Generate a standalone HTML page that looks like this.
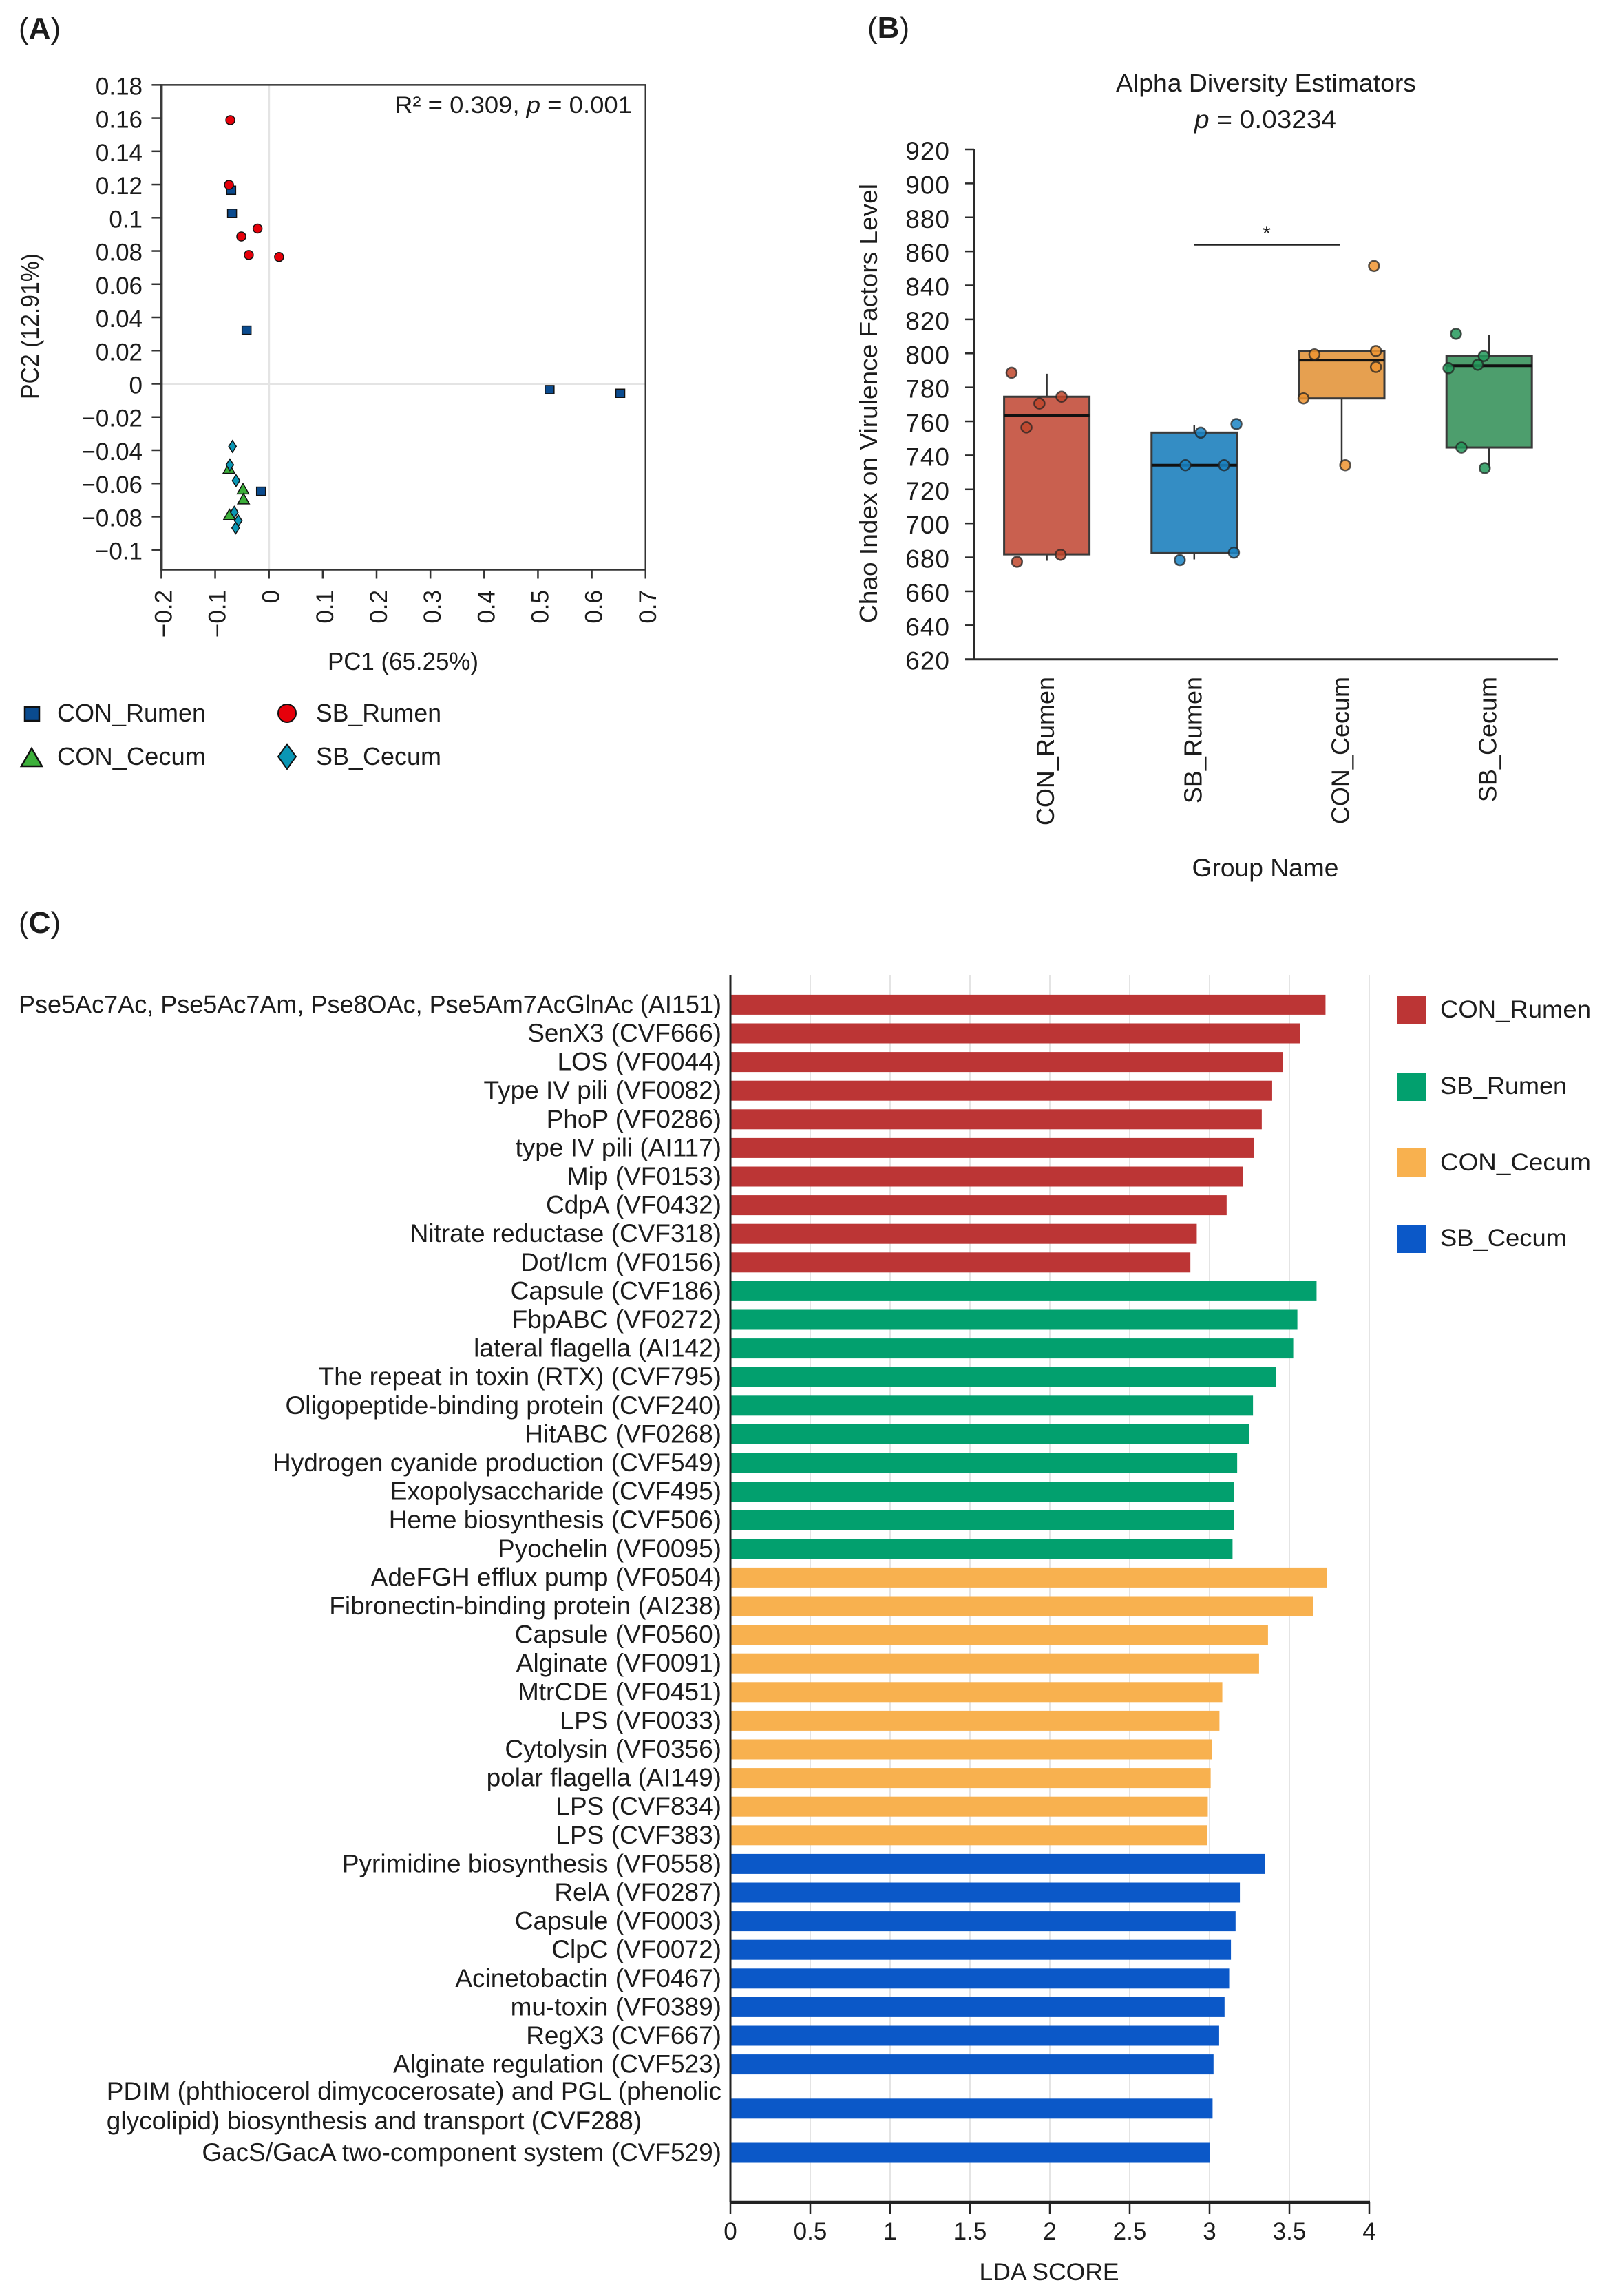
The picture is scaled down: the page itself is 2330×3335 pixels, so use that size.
<!DOCTYPE html>
<html lang="en">
<head>
<meta charset="utf-8">
<title>Virulence factor analysis panels</title>
<style>
html,body{margin:0;padding:0;background:#fff;}
svg{display:block;}
text{font-family:"Liberation Sans",Arial,sans-serif;fill:#1c1c1c;}
</style>
</head>
<body>
<svg id="fig" xmlns="http://www.w3.org/2000/svg" width="2330" height="3335" viewBox="0 0 2330 3335">
  <rect x="0" y="0" width="2330" height="3335" fill="#ffffff"/>
  <text x="27" y="56" font-size="44">(<tspan font-weight="bold">A</tspan>)</text>
  <text x="1260" y="55" font-size="44">(<tspan font-weight="bold">B</tspan>)</text>
  <text x="27" y="1355" font-size="44">(<tspan font-weight="bold">C</tspan>)</text>

  <g id="panelA"></g>
  <text x="573" y="164" font-size="34" textLength="345" lengthAdjust="spacingAndGlyphs">R² = 0.309, <tspan font-style="italic">p</tspan> = 0.001</text>
  <text x="476" y="973" font-size="36" textLength="219" lengthAdjust="spacingAndGlyphs">PC1 (65.25%)</text>
  <text transform="translate(56 474) rotate(-90)" text-anchor="middle" font-size="36" textLength="212" lengthAdjust="spacingAndGlyphs">PC2 (12.91%)</text>

  <g>
    <rect x="36" y="1027" width="21" height="20" fill="#0a4b8f" stroke="#111" stroke-width="2.5"/>
    <text x="83" y="1048" font-size="36" textLength="216" lengthAdjust="spacingAndGlyphs">CON_Rumen</text>
    <polygon points="31,1113 61,1113 46,1087" fill="#3cb03a" stroke="#111" stroke-width="2.5"/>
    <text x="83" y="1111" font-size="36" textLength="216" lengthAdjust="spacingAndGlyphs">CON_Cecum</text>
    <circle cx="417" cy="1036" r="13" fill="#e6000a" stroke="#111" stroke-width="2"/>
    <text x="459" y="1048" font-size="36" textLength="182" lengthAdjust="spacingAndGlyphs">SB_Rumen</text>
    <polygon points="417,1081 430,1099 417,1117 404,1099" fill="#0a96b4" stroke="#111" stroke-width="2"/>
    <text x="459" y="1111" font-size="36" textLength="182" lengthAdjust="spacingAndGlyphs">SB_Cecum</text>
  </g>

  <text x="1839" y="133" text-anchor="middle" font-size="36" textLength="436" lengthAdjust="spacingAndGlyphs">Alpha Diversity Estimators</text>
  <text x="1735" y="186" font-size="37" textLength="206" lengthAdjust="spacingAndGlyphs"><tspan font-style="italic">p</tspan> = 0.03234</text>
  <g id="panelB"></g>
  <text transform="translate(1274 586) rotate(-90)" text-anchor="middle" font-size="36" textLength="638" lengthAdjust="spacingAndGlyphs">Chao Index on Virulence Factors Level</text>
  <text x="1838" y="1273" text-anchor="middle" font-size="37" textLength="213" lengthAdjust="spacingAndGlyphs">Group Name</text>
  <line x1="1734" y1="355.5" x2="1947" y2="355.5" stroke="#222" stroke-width="2.5"/>
  <text x="1840" y="349" text-anchor="middle" font-size="30">*</text>

  <g id="panelC"></g>
  <text x="1524" y="3312" text-anchor="middle" font-size="35" textLength="203" lengthAdjust="spacingAndGlyphs">LDA SCORE</text>
  <g>
    <rect x="2030" y="1447" width="41" height="41" fill="#bc3535"/>
    <text x="2092" y="1478" font-size="35" textLength="219" lengthAdjust="spacingAndGlyphs">CON_Rumen</text>
    <rect x="2030" y="1558" width="41" height="41" fill="#02a06e"/>
    <text x="2092" y="1589" font-size="35" textLength="184" lengthAdjust="spacingAndGlyphs">SB_Rumen</text>
    <rect x="2030" y="1668" width="41" height="41" fill="#f8b14f"/>
    <text x="2092" y="1700" font-size="35" textLength="219" lengthAdjust="spacingAndGlyphs">CON_Cecum</text>
    <rect x="2030" y="1779" width="41" height="41" fill="#0b58c8"/>
    <text x="2092" y="1810" font-size="35" textLength="184" lengthAdjust="spacingAndGlyphs">SB_Cecum</text>
  </g>
</svg>

<script>
/* ---------- Panel A data ---------- */
const aXTickLabels = ['−0.2','−0.1','0','0.1','0.2','0.3','0.4','0.5','0.6','0.7'];
const aYTickLabels = ['0.18','0.16','0.14','0.12','0.1','0.08','0.06','0.04','0.02','0','−0.02','−0.04','−0.06','−0.08','−0.1'];
const conRumenPC1 = [-0.0702,-0.0686,-0.0416,-0.0147,0.5216,0.653];
const conRumenPC2 = [0.1166,0.1027,0.0323,-0.0647,-0.0035,-0.0057];
const conCecumPC1 = [-0.0743,-0.0482,-0.0473,-0.0735];
const conCecumPC2 = [-0.051,-0.0634,-0.0694,-0.0789];
const sbRumenPC1 = [-0.0718,-0.0743,-0.0212,-0.0514,-0.0375,0.0188];
const sbRumenPC2 = [0.1588,0.1198,0.0935,0.0887,0.0776,0.0764];
const sbCecumPC1 = [-0.0678,-0.0727,-0.0612,-0.0645,-0.0571,-0.062];
const sbCecumPC2 = [-0.0377,-0.0488,-0.0583,-0.0773,-0.0824,-0.0868];

/* ---------- Panel B data ---------- */
const bGroups = ['CON_Rumen','SB_Rumen','CON_Cecum','SB_Cecum'];
const bYTicks = [920,900,880,860,840,820,800,780,760,740,720,700,680,660,640,620];
const bWhiskerLow = [678,678.8,734,732.5];
const bQ1 = [681.8,682.5,773.5,744.6];
const bMedian = [763.4,734.2,796,792.7];
const bQ3 = [774.5,753.4,801.4,798.4];
const bWhiskerHigh = [788,757.7,801.4,811];
const bPointsConRumen = [788.6,770.5,774.5,756.4,681.5,677.4];
const bJitterConRumen = [-0.239,-0.05,0.10,-0.138,0.094,-0.202];
const bPointsSbRumen = [753.4,758.4,734.2,734.2,682.8,678.4];
const bJitterSbRumen = [0.044,0.286,-0.06,0.202,0.269,-0.098];
const bPointsConCecum = [851.4,799.4,801.4,792,773.5,734.2];
const bJitterConCecum = [0.219,-0.185,0.232,0.232,-0.259,0.024];
const bPointsSbCecum = [811.5,798.4,791.3,793.3,744.6,732.5];
const bJitterSbCecum = [-0.225,-0.037,-0.276,-0.077,-0.188,-0.03];

/* ---------- Panel C data ---------- */
const cTicks = [0,0.5,1,1.5,2,2.5,3,3.5,4];
const conRumenFeatures = ['Pse5Ac7Ac, Pse5Ac7Am, Pse8OAc, Pse5Am7AcGlnAc (AI151)','SenX3 (CVF666)','LOS (VF0044)','Type IV pili (VF0082)','PhoP (VF0286)','type IV pili (AI117)','Mip (VF0153)','CdpA (VF0432)','Nitrate reductase (CVF318)','Dot/Icm (VF0156)'];
const conRumenScores = [3.726,3.565,3.458,3.392,3.327,3.279,3.21,3.107,2.92,2.88];
const sbRumenFeatures = ['Capsule (CVF186)','FbpABC (VF0272)','lateral flagella (AI142)','The repeat in toxin (RTX) (CVF795)','Oligopeptide-binding protein (CVF240)','HitABC (VF0268)','Hydrogen cyanide production (CVF549)','Exopolysaccharide (CVF495)','Heme biosynthesis (CVF506)','Pyochelin (VF0095)'];
const sbRumenScores = [3.67,3.55,3.524,3.418,3.272,3.25,3.173,3.155,3.151,3.144];
const conCecumFeatures = ['AdeFGH efflux pump (VF0504)','Fibronectin-binding protein (AI238)','Capsule (VF0560)','Alginate (VF0091)','MtrCDE (VF0451)','LPS (VF0033)','Cytolysin (VF0356)','polar flagella (AI149)','LPS (CVF834)','LPS (CVF383)'];
const conCecumScores = [3.733,3.65,3.366,3.31,3.08,3.062,3.016,3.007,2.989,2.985];
const sbCecumFeatures = ['Pyrimidine biosynthesis (VF0558)','RelA (VF0287)','Capsule (VF0003)','ClpC (VF0072)','Acinetobactin (VF0467)','mu-toxin (VF0389)','RegX3 (CVF667)','Alginate regulation (CVF523)','PDIM (phthiocerol dimycocerosate) and PGL (phenolic|glycolipid) biosynthesis and transport (CVF288)','GacS/GacA two-component system (CVF529)'];
const sbCecumScores = [3.348,3.19,3.163,3.134,3.123,3.094,3.06,3.025,3.019,3.0];

const SVGNS = 'http://www.w3.org/2000/svg';
function mk(parent, tag, props, txt) {
  const e = document.createElementNS(SVGNS, tag);
  for (const k in props) e.setAttribute(k, props[k]);
  if (txt !== undefined) e.textContent = txt;
  parent.appendChild(e);
  return e;
}
function num(label) { return parseFloat(label.replace('−', '-')); }

/* ---------- Panel A ---------- */
(function () {
  const g = document.getElementById('panelA');
  const xA = v => 390.7 + v * 781.5;
  const yA = v => 557.5 - v * 2412;
  const L = xA(-0.2), R = xA(0.7), T = yA(0.18), B = 827.5;
  const AX = '#333';
  let el;
  el = mk(g, 'line', {x1: xA(0), y1: T, x2: xA(0), y2: B, stroke: '#e4e4e4', 'stroke-width': 3});
  
  
  el = mk(g, 'line', {x1: L, y1: yA(0), x2: R, y2: yA(0), stroke: '#e4e4e4', 'stroke-width': 3});
  
  
  el = mk(g, 'rect', {x: L, y: T, width: R - L, height: B - T, fill: 'none', stroke: AX, 'stroke-width': 2.5});
  
  
  el = mk(g, 'line', {x1: L, y1: T, x2: L, y2: B, stroke: '#3a3a3a', 'stroke-width': 4});
  
  

  aYTickLabels.forEach(lab => {
    const y = yA(num(lab));
    const t = mk(g, 'line', {x1: L - 14, y1: y, x2: L, y2: y, stroke: AX, 'stroke-width': 2.5});
    
    
    const s = mk(g, 'text', {x: 207, y: y + 14, 'text-anchor': 'end', 'font-size': 35}, lab);
    
    
  });
  aXTickLabels.forEach(lab => {
    const x = xA(num(lab));
    const t = mk(g, 'line', {x1: x, y1: B, x2: x, y2: B + 13, stroke: AX, 'stroke-width': 2.5});
    
    
    const s = mk(g, 'text', {transform: 'translate(' + (x + 15) + ' 857) rotate(-90)', 'text-anchor': 'end', 'font-size': 35}, lab);
    
    
  });

  conRumenPC1.forEach((v, i) => {
    const m = mk(g, 'rect', {x: xA(v) - 6.5, y: yA(conRumenPC2[i]) - 6, width: 13, height: 12, fill: '#0a4b8f', stroke: '#111', 'stroke-width': 1.5});
    
    
  });
  conCecumPC1.forEach((v, i) => {
    const cx = xA(v), cy = yA(conCecumPC2[i]);
    const m = mk(g, 'polygon', {points: (cx - 8.5) + ',' + (cy + 7) + ' ' + (cx + 8.5) + ',' + (cy + 7) + ' ' + cx + ',' + (cy - 8), fill: '#3cb03a', stroke: '#111', 'stroke-width': 1.5});
    
    
  });
  sbRumenPC1.forEach((v, i) => {
    const m = mk(g, 'circle', {cx: xA(v), cy: yA(sbRumenPC2[i]), r: 6.5, fill: '#e6000a', stroke: '#111', 'stroke-width': 1.5});
    
    
  });
  sbCecumPC1.forEach((v, i) => {
    const cx = xA(v), cy = yA(sbCecumPC2[i]);
    const m = mk(g, 'polygon', {points: cx + ',' + (cy - 8.5) + ' ' + (cx + 5.5) + ',' + cy + ' ' + cx + ',' + (cy + 8.5) + ' ' + (cx - 5.5) + ',' + cy, fill: '#0a96b4', stroke: '#111', 'stroke-width': 1.5});
    
    
  });
})();

/* ---------- Panel B ---------- */
(function () {
  const g = document.getElementById('panelB');
  const yB = v => 957.7 - (v - 620) * 2.469;
  const xB = i => 1520.6 + i * 214.2;
  const AX = '#2a2a2a';
  const boxFill = ['#c9604f','#348dc4','#e6a050','#4d9e6d'];
  const dotFill = ['#c0472c','#1a84c4','#ee9430','#23985a'];
  const allPoints = [bPointsConRumen, bPointsSbRumen, bPointsConCecum, bPointsSbCecum];
  const allJitter = [bJitterConRumen, bJitterSbRumen, bJitterConCecum, bJitterSbCecum];
  let el;
  el = mk(g, 'line', {x1: 1415.5, y1: yB(920), x2: 1415.5, y2: yB(620), stroke: AX, 'stroke-width': 3});
  
  
  el = mk(g, 'line', {x1: 1402, y1: yB(620), x2: 2263, y2: yB(620), stroke: AX, 'stroke-width': 3});
  
  
  bYTicks.forEach(v => {
    const y = yB(v);
    const t = mk(g, 'line', {x1: 1402, y1: y, x2: 1415, y2: y, stroke: AX, 'stroke-width': 2.5});
    
    
    const s = mk(g, 'text', {x: 1380, y: y + 15, 'text-anchor': 'end', 'font-size': 37, 'letter-spacing': 1}, String(v));
    
    
  });
  bGroups.forEach((name, i) => {
    const cx = xB(i);
    const w = mk(g, 'line', {x1: cx, y1: yB(bWhiskerHigh[i]), x2: cx, y2: yB(bWhiskerLow[i]), stroke: '#333', 'stroke-width': 2.5});
    
    
    const b = mk(g, 'rect', {x: cx - 62, y: yB(bQ3[i]), width: 124, height: yB(bQ1[i]) - yB(bQ3[i]), fill: boxFill[i], stroke: '#3a3a3a', 'stroke-width': 3});
    
    
    const m = mk(g, 'line', {x1: cx - 62, y1: yB(bMedian[i]), x2: cx + 62, y2: yB(bMedian[i]), stroke: '#111', 'stroke-width': 4});
    
    
    allPoints[i].forEach((v, k) => {
      const d = mk(g, 'circle', {cx: cx + allJitter[i][k] * 214.2, cy: yB(v), r: 7.5, fill: dotFill[i], 'fill-opacity': 0.85, stroke: '#222', 'stroke-opacity': 0.75, 'stroke-width': 2.5});
      
      
    });
    const s = mk(g, 'text', {transform: 'translate(' + (cx + 10.5) + ' 983) rotate(-90)', 'text-anchor': 'end', 'font-size': 36}, name);
    
    
  });
})();

/* ---------- Panel C ---------- */
(function () {
  const g = document.getElementById('panelC');
  const features = conRumenFeatures.concat(sbRumenFeatures, conCecumFeatures, sbCecumFeatures);
  const scores = conRumenScores.concat(sbRumenScores, conCecumScores, sbCecumScores);
  const colors = ['#bc3535','#02a06e','#f8b14f','#0b58c8'];
  const groupSize = conRumenFeatures.length;
  const xC = v => 1061 + v * 232;
  const wrapIndex = features.findIndex(f => f.indexOf('|') >= 0);
  const yC = i => 1459.4 + i * 41.6 + (i >= wrapIndex ? 22.6 : 0) + (i > wrapIndex ? 22.6 : 0);
  const AX = 3199, TOP = 1416;
  const LABEL_RIGHT = 1048, LABEL_MAX = 1021;
  cTicks.forEach(v => {
    const x = xC(v);
    if (v > 0) {
      const gl = mk(g, 'line', {x1: x, y1: TOP, x2: x, y2: AX, stroke: '#e4e4e4', 'stroke-width': 2});
      
      
    }
    const t = mk(g, 'line', {x1: x, y1: AX, x2: x, y2: AX + 17, stroke: '#222', 'stroke-width': 2.5});
    
    
    const s = mk(g, 'text', {x: x, y: 3253, 'text-anchor': 'middle', 'font-size': 35}, String(v));
    
    
  });
  features.forEach((f, i) => {
    const cy = yC(i);
    const b = mk(g, 'rect', {x: xC(0), y: cy - 14.5, width: xC(scores[i]) - xC(0), height: 29, fill: colors[Math.floor(i / groupSize)]});
    
    
    const parts = f.split('|');
    if (parts.length === 1) {
      const s = mk(g, 'text', {x: LABEL_RIGHT, y: cy + 12, 'text-anchor': 'end', 'font-size': 37}, f);
      
      
      if (s.getComputedTextLength() > LABEL_MAX) {
        s.setAttribute('textLength', LABEL_MAX);
        s.setAttribute('lengthAdjust', 'spacingAndGlyphs');
      }
    } else {
      const a = mk(g, 'text', {x: LABEL_RIGHT, y: cy - 13, 'text-anchor': 'end', 'font-size': 37}, parts[0]);
      
      
      const left = LABEL_RIGHT - a.getComputedTextLength();
      const c = mk(g, 'text', {x: left, y: cy + 30, 'font-size': 37}, parts[1]);
      
      
    }
  });
  let el;
  el = mk(g, 'line', {x1: xC(0), y1: TOP, x2: xC(0), y2: AX, stroke: '#222', 'stroke-width': 3});
  
  
  el = mk(g, 'line', {x1: xC(0) - 1, y1: AX, x2: xC(4) + 1, y2: AX, stroke: '#222', 'stroke-width': 4.5});
  
  
})();
</script>
</body>
</html>
